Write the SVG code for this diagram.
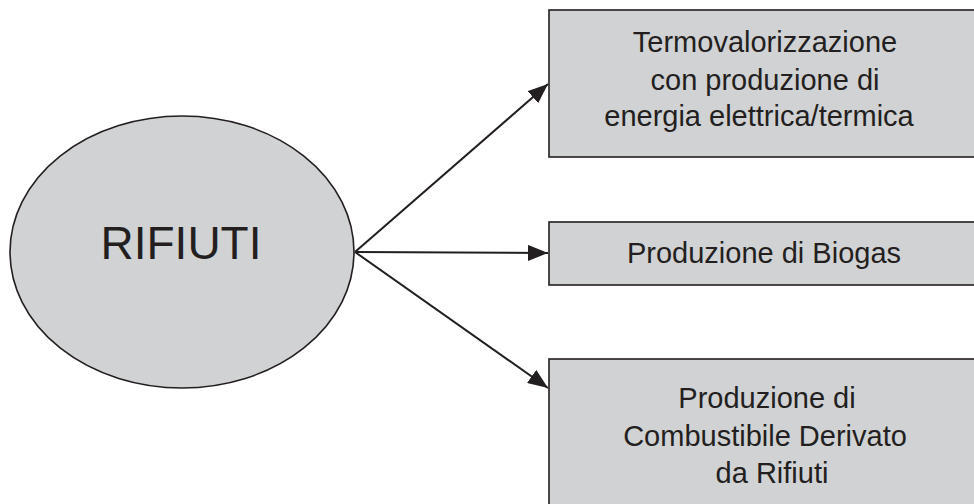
<svg xmlns="http://www.w3.org/2000/svg" width="974" height="504" viewBox="0 0 974 504">
<style>
.shape{fill:#d1d2d4;stroke:#231f20;stroke-width:1.6}
.t{font-family:"Liberation Sans",Arial,sans-serif;fill:#231f20;text-anchor:middle}
.s{font-size:29px}
.c{stroke:#231f20;stroke-width:2;fill:none}
</style>
<defs>
<marker id="ah" viewBox="0 0 20 16" refX="20" refY="8" markerWidth="20" markerHeight="16" markerUnits="userSpaceOnUse" orient="auto">
<path d="M0,0 L20,8 L0,16 Z" fill="#231f20"/>
</marker>
</defs>
<rect width="974" height="504" fill="#ffffff"/>
<g id="rifiuti">
<ellipse class="shape" cx="182" cy="252" rx="172" ry="136"/>
<text class="t" x="181" y="259" font-size="46">RIFIUTI</text>
</g>
<g id="termo">
<rect class="shape" x="549" y="10" width="440" height="147"/>
<text class="t s" x="765" y="52">Termovalorizzazione</text>
<text class="t s" x="765" y="90">con produzione di</text>
<text class="t s" x="759" y="126">energia elettrica/termica</text>
</g>
<g id="biogas">
<rect class="shape" x="549" y="222" width="440" height="63"/>
<text class="t s" x="764" y="263">Produzione di Biogas</text>
</g>
<g id="cdr">
<rect class="shape" x="549" y="359" width="440" height="160"/>
<text class="t s" x="767" y="408">Produzione di</text>
<text class="t s" x="765" y="446">Combustibile Derivato</text>
<text class="t s" x="772" y="483">da Rifiuti</text>
</g>
<g id="connectors">
<line class="c" x1="355" y1="252" x2="548" y2="84" marker-end="url(#ah)"/>
<line class="c" x1="355" y1="252" x2="548" y2="253" marker-end="url(#ah)"/>
<line class="c" x1="355" y1="252" x2="548" y2="388" marker-end="url(#ah)"/>
</g>
</svg>
